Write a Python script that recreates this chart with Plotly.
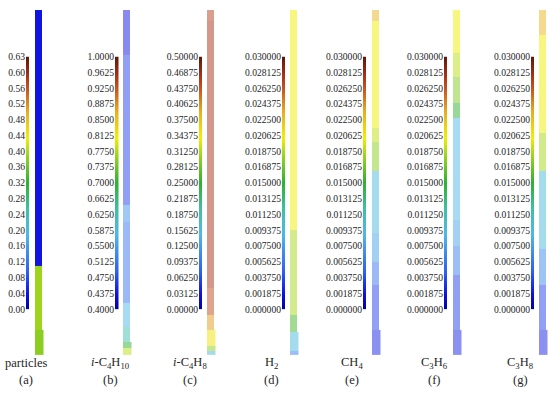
import plotly.graph_objects as go

W, H = 550, 393

# ---------------- data ----------------
panel_names = ["particles", "<i>i</i>-C<sub>4</sub>H<sub>10</sub>", "<i>i</i>-C<sub>4</sub>H<sub>8</sub>",
               "H<sub>2</sub>", "CH<sub>4</sub>", "C<sub>3</sub>H<sub>6</sub>", "C<sub>3</sub>H<sub>8</sub>"]
panel_letters = ["(a)", "(b)", "(c)", "(d)", "(e)", "(f)", "(g)"]

# colour-legend tick labels (bottom -> top), evenly spaced on the legend
ticks_a = ["0.00", "0.04", "0.08", "0.12", "0.16", "0.20", "0.24", "0.28", "0.32",
           "0.36", "0.40", "0.44", "0.48", "0.52", "0.56", "0.60", "0.63"]
ticks_b = ["0.4000", "0.4375", "0.4750", "0.5125", "0.5500", "0.5875", "0.6250", "0.6625", "0.7000",
           "0.7375", "0.7750", "0.8125", "0.8500", "0.8875", "0.9250", "0.9625", "1.0000"]
ticks_c = ["0.00000", "0.03125", "0.06250", "0.09375", "0.12500", "0.15625", "0.18750", "0.21875", "0.25000",
           "0.28125", "0.31250", "0.34375", "0.37500", "0.40625", "0.43750", "0.46875", "0.50000"]
ticks_small = ["0.000000", "0.001875", "0.003750", "0.005625", "0.007500", "0.009375", "0.011250",
               "0.013125", "0.015000", "0.016875", "0.018750", "0.020625", "0.022500", "0.024375",
               "0.026250", "0.028125", "0.030000"]
ranges = [(0.0, 0.63), (0.4, 1.0), (0.0, 0.5), (0.0, 0.03), (0.0, 0.03), (0.0, 0.03), (0.0, 0.03)]
tick_sets = [ticks_a, ticks_b, ticks_c, ticks_small, ticks_small, ticks_small, ticks_small]

# contour bands along the reactor height (fraction of height, bottom -> top) and band values
h_a = [0.0, 0.073, 0.259, 1.0]
v_a = [0.375, 0.385, 0.04]

h_b = [0.0, 0.020, 0.039, 0.082, 0.152, 0.386, 0.434, 0.870, 1.0]
v_b = [0.78, 0.70, 0.63, 0.58, 0.51, 0.54, 0.47, 0.44]

h_c = [0.0, 0.011, 0.025, 0.073, 0.115, 0.194, 0.969, 1.0]
v_c = [0.16, 0.30, 0.35, 0.40, 0.445, 0.465, 0.455]

h_d = [0.0, 0.011, 0.068, 0.115, 0.363, 1.0]
v_d = [0.006, 0.0095, 0.0156, 0.0186, 0.0205]

h_e = [0.0, 0.073, 0.203, 0.270, 0.355, 0.532, 0.617, 0.659, 0.969, 1.0]
v_e = [0.0025, 0.0035, 0.0055, 0.0078, 0.0095, 0.0178, 0.0192, 0.0205, 0.0232]

h_f = [0.0, 0.073, 0.231, 0.315, 0.392, 0.687, 0.730, 0.806, 0.876, 1.0]
v_f = [0.0025, 0.0035, 0.0060, 0.0080, 0.0090, 0.0150, 0.0175, 0.0190, 0.0205]

h_g = [0.0, 0.073, 0.203, 0.307, 0.532, 0.645, 0.927, 1.0]
v_g = [0.0025, 0.0035, 0.0065, 0.0095, 0.0185, 0.0205, 0.0232]

heights = [h_a, h_b, h_c, h_d, h_e, h_f, h_g]
values = [v_a, v_b, v_c, v_d, v_e, v_f, v_g]

OUTLET_TOP = 0.073  # the outlet section at the bottom is slightly wider

# ---------------- styling / layout ----------------
rainbow = [[0.0, "#0000a0"], [0.06, "#1010e0"], [0.15, "#3060f0"], [0.30, "#50b8e8"],
           [0.40, "#40c0a0"], [0.50, "#30b030"], [0.60, "#90d020"], [0.68, "#f0f000"],
           [0.78, "#e8b020"], [0.86, "#d06020"], [0.93, "#a83018"], [1.0, "#601808"]]

strip_left = [35, 123, 207, 290, 372, 453, 539]      # px
strip_main_w = 6.5
strip_ext_w = 2.0
strip_top, strip_bot = 4, 359                        # px
cbar_left = [26, 115, 199, 282, 363, 444, 531]       # px
cbar_w = 3.5
cbar_top, cbar_bot = 52, 312
label_x = [26, 110, 190, 271, 352, 434, 520]
opac = [1.0, 0.5, 0.5, 0.5, 0.5, 0.5, 0.5]

FONT = "Liberation Serif"
TXT = "#262626"


def ax_name(kind, idx):
    return kind if idx == 1 else f"{kind}{idx}"


fig = go.Figure()
for i in range(7):
    lo, hi = ranges[i]
    n = len(tick_sets[i])
    tvals = [lo + (hi - lo) * j / (n - 1) for j in range(n)]

    # ---- reactor strip ----
    hs, vs = heights[i], values[i]
    z = []
    for k, v in enumerate(vs):
        ext = v if hs[k + 1] <= OUTLET_TOP + 1e-9 else None
        z.append([v, ext])
    si = 2 * i + 1
    fig.add_trace(go.Heatmap(
        x=[0, strip_main_w, strip_main_w + strip_ext_w], y=hs, z=z,
        zmin=lo, zmax=hi, colorscale=rainbow, opacity=opac[i], showscale=False,
        xaxis=ax_name("x", si), yaxis=ax_name("y", si), hoverinfo="skip",
    ))
    x0 = strip_left[i] / W
    x1 = (strip_left[i] + strip_main_w + strip_ext_w) / W
    fig.layout[ax_name("xaxis", si)] = dict(
        domain=[x0, x1], range=[0, strip_main_w + strip_ext_w], visible=False,
        anchor=ax_name("y", si))
    fig.layout[ax_name("yaxis", si)] = dict(
        domain=[1 - strip_bot / H, 1 - strip_top / H], range=[0, 1], visible=False,
        anchor=ax_name("x", si))

    # ---- colour legend (smooth gradient through the legend's tick values) ----
    ci = 2 * i + 2
    fig.add_trace(go.Heatmap(
        x=[0, 1], y=tvals, z=[[t, t] for t in tvals], zsmooth="best",
        zmin=lo, zmax=hi, colorscale=rainbow, showscale=False,
        xaxis=ax_name("x", ci), yaxis=ax_name("y", ci), hoverinfo="skip",
    ))
    fig.layout[ax_name("xaxis", ci)] = dict(
        domain=[cbar_left[i] / W, (cbar_left[i] + cbar_w) / W], range=[0, 1],
        visible=False, anchor=ax_name("y", ci))
    fig.layout[ax_name("yaxis", ci)] = dict(
        domain=[1 - cbar_bot / H, 1 - cbar_top / H], range=[lo, hi],
        anchor=ax_name("x", ci), side="left",
        tickmode="array", tickvals=tvals, ticktext=tick_sets[i],
        ticks="", ticklen=0, showgrid=False, zeroline=False, showline=False,
        tickfont=dict(family=FONT, size=9.6, color=TXT))

    # ---- captions ----
    fig.add_annotation(x=label_x[i] / W, y=1 - 367 / H, xref="paper", yref="paper",
                       xanchor="center", yanchor="middle",
                       text=panel_names[i], showarrow=False,
                       font=dict(family=FONT, size=12.5, color=TXT))
    fig.add_annotation(x=label_x[i] / W, y=1 - 385 / H, xref="paper", yref="paper",
                       xanchor="center", yanchor="middle",
                       text=panel_letters[i], showarrow=False,
                       font=dict(family=FONT, size=12.5, color=TXT))

fig.update_layout(width=W, height=H, margin=dict(l=0, r=0, t=0, b=0),
                  paper_bgcolor="white", plot_bgcolor="white", showlegend=False)
fig.write_html("out.html", config={"displayModeBar": False},
               post_script="document.body.style.margin='0';document.body.style.overflow='hidden';")
